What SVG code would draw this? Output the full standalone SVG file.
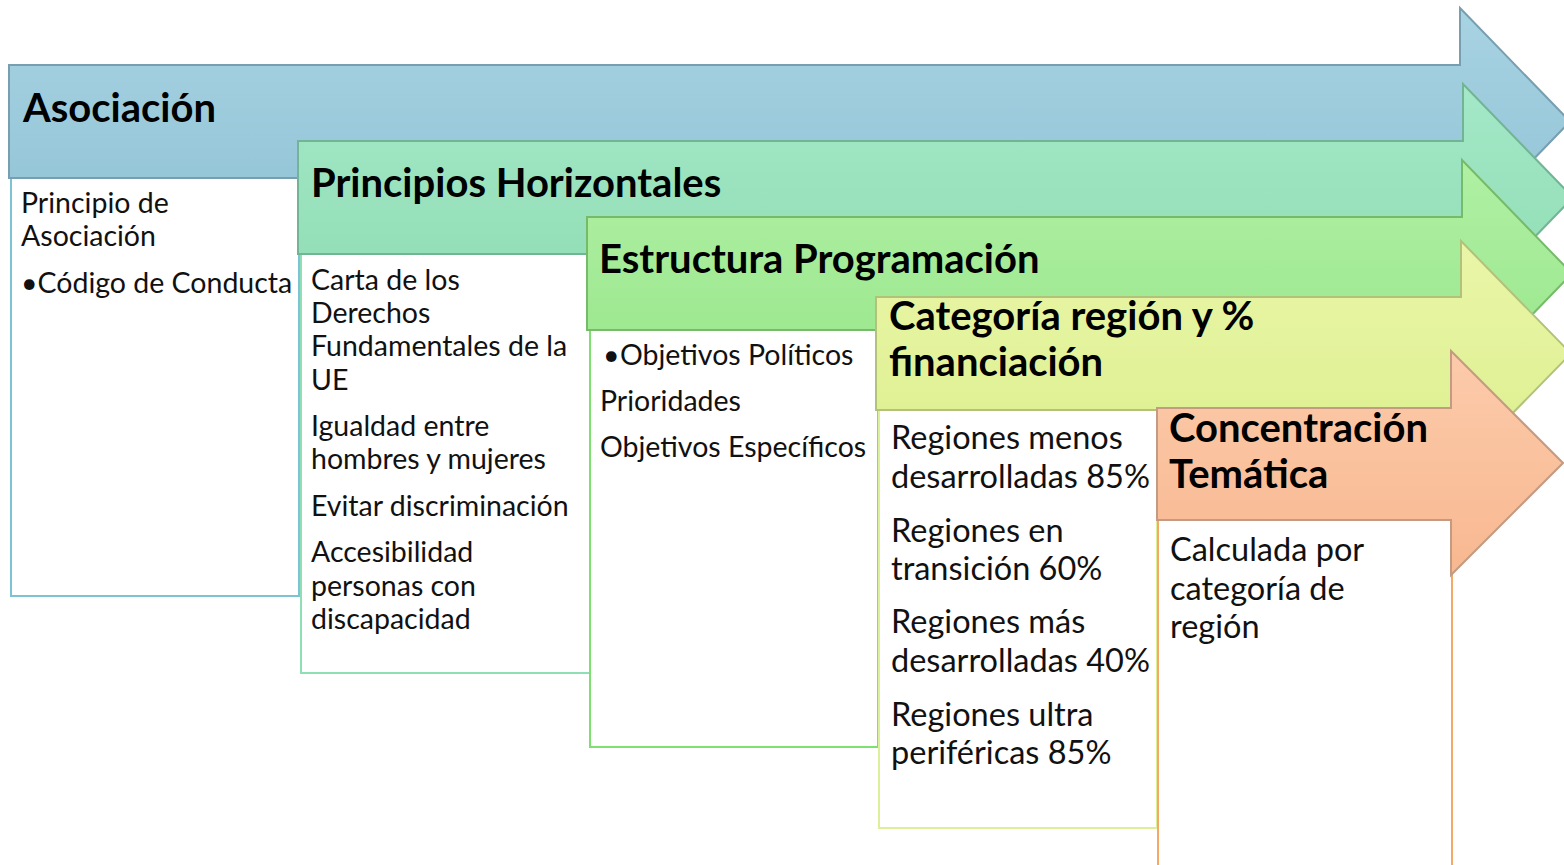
<svg xmlns="http://www.w3.org/2000/svg" width="1564" height="865" viewBox="0 0 1564 865">
<defs>
<linearGradient id="g1" x1="0" y1="0" x2="0" y2="1"><stop offset="0" stop-color="#a8d3e3"/><stop offset="1" stop-color="#8fc2d5"/></linearGradient>
<linearGradient id="g2" x1="0" y1="0" x2="0" y2="1"><stop offset="0" stop-color="#a4e8c8"/><stop offset="1" stop-color="#8edcb2"/></linearGradient>
<linearGradient id="g3" x1="0" y1="0" x2="0" y2="1"><stop offset="0" stop-color="#b0f0a4"/><stop offset="1" stop-color="#98e68a"/></linearGradient>
<linearGradient id="g4" x1="0" y1="0" x2="0" y2="1"><stop offset="0" stop-color="#eaf6a8"/><stop offset="1" stop-color="#dcef8e"/></linearGradient>
<linearGradient id="g5" x1="0" y1="0" x2="0" y2="1"><stop offset="0" stop-color="#fccbab"/><stop offset="1" stop-color="#f8b890"/></linearGradient>
</defs>
<style>
.arrow{stroke-width:2;stroke-linejoin:miter}
.box{fill:#ffffff;stroke-width:2}
.h{font-family:Lato,"Open Sans",sans-serif;font-weight:bold;font-size:40px;fill:#000}
.t{font-family:Lato,"Open Sans",sans-serif;font-size:28.5px;fill:#111}
.t2{font-family:Lato,"Open Sans",sans-serif;font-size:32.5px;fill:#111}
</style>
<rect width="1564" height="865" fill="#ffffff"/>

<g id="box1"><rect class="box" x="11" y="178" width="288" height="418" stroke="#7cc4d4"/>
<text class="t" x="21" y="213">Principio de</text>
<text class="t" x="21" y="246">Asociación</text>
<text class="t" x="21" y="293">•Código de Conducta</text></g>

<g id="box2"><rect class="box" x="301" y="254" width="289" height="419" stroke="#8ee0b4"/>
<text class="t" x="311" y="290">Carta de los</text>
<text class="t" x="311" y="323">Derechos</text>
<text class="t" x="311" y="356">Fundamentales de la</text>
<text class="t" x="311" y="390">UE</text>
<text class="t" x="311" y="436">Igualdad entre</text>
<text class="t" x="311" y="469">hombres y mujeres</text>
<text class="t" x="311" y="516">Evitar discriminación</text>
<text class="t" x="311" y="562">Accesibilidad</text>
<text class="t" x="311" y="596">personas con</text>
<text class="t" x="311" y="629">discapacidad</text></g>

<g id="box3"><rect class="box" x="590" y="330" width="288" height="417" stroke="#7ee070"/>
<text class="t" x="603" y="365">•</text>
<text class="t" x="620" y="365">Objetivos Políticos</text>
<text class="t" x="600" y="411">Prioridades</text>
<text class="t" x="600" y="457">Objetivos Específicos</text></g>

<g id="box4"><rect class="box" x="879" y="410" width="278" height="418" stroke="#dcf09a"/>
<text class="t2" x="891" y="449">Regiones menos</text>
<text class="t2" x="891" y="488">desarrolladas 85%</text>
<text class="t2" x="891" y="542">Regiones en</text>
<text class="t2" x="891" y="580">transición 60%</text>
<text class="t2" x="891" y="633">Regiones más</text>
<text class="t2" x="891" y="672">desarrolladas 40%</text>
<text class="t2" x="891" y="726">Regiones ultra</text>
<text class="t2" x="891" y="764">periféricas 85%</text></g>

<g id="box5"><rect class="box" x="1158" y="520" width="294" height="360" stroke="#f6a866"/>
<text class="t2" x="1170" y="561">Calculada por</text>
<text class="t2" x="1170" y="600">categoría de</text>
<text class="t2" x="1170" y="638">región</text></g>

<g id="arrow1"><polygon class="arrow" fill="url(#g1)" stroke="#779fb0" points="9,65 1460,65 1460,8 1570,121.5 1460,235 1460,178 9,178"/>
<text class="h" x="23" y="122">Asociación</text></g>
<g id="arrow2"><polygon class="arrow" fill="url(#g2)" stroke="#72b594" points="298,141 1463,141 1463,84 1573,197.5 1463,311 1463,254 298,254"/>
<text class="h" x="311" y="197">Principios Horizontales</text></g>
<g id="arrow3"><polygon class="arrow" fill="url(#g3)" stroke="#76bb6a" points="587,217 1462,217 1462,160 1572,273.5 1462,387 1462,330 587,330"/>
<text class="h" x="599" y="273">Estructura Programación</text></g>
<g id="arrow4"><polygon class="arrow" fill="url(#g4)" stroke="#b2c27a" points="876,297 1461,297 1461,241 1571,353.5 1461,466 1461,410 876,410"/>
<text class="h" x="889" y="330">Categoría región y %</text>
<text class="h" x="889" y="376">financiación</text></g>
<g id="arrow5"><polygon class="arrow" fill="url(#g5)" stroke="#c49a82" points="1157,408 1451,408 1451,351 1563,463 1451,575 1451,520 1157,520"/>
<text class="h" x="1169" y="442">Concentración</text>
<text class="h" x="1169" y="488">Temática</text></g>

<g id="connectors"></g>
</svg>
